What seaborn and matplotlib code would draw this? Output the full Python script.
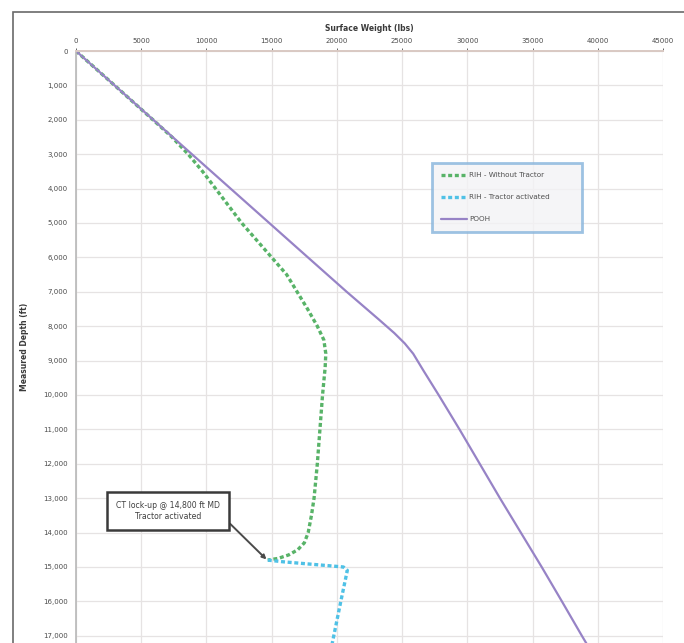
import matplotlib
matplotlib.use("Agg")
import matplotlib.pyplot as plt
from matplotlib.patches import Rectangle
from matplotlib.ticker import FuncFormatter, MultipleLocator
import numpy as np
import pandas as pd
import seaborn as sns

# Surface weight (lbs) against measured depth (ft) for each run
rih_no_tractor_depth = [0, 1000, 2000, 2500, 3000, 3500, 4000, 4500, 5000, 5500,
                        6000, 6500, 7000, 7500, 8000, 8400, 8800, 9200, 10000,
                        11000, 12000, 13000, 13500, 14000, 14300, 14500, 14650,
                        14750, 14800]
rih_no_tractor_weight = [0, 2960, 5900, 7350, 8600, 9700, 10700, 11700, 12700, 13850,
                         15000, 16150, 16950, 17750, 18500, 19000, 19150, 19100, 18900,
                         18700, 18500, 18250, 18050, 17800, 17500, 17000, 16300,
                         15500, 14700]

rih_tractor_depth = [14800, 14850, 15000, 15100, 16000, 17300]
rih_tractor_weight = [14700, 15900, 20500, 20800, 20300, 19600]

pooh_depth = [0, 2000, 4000, 6000, 7000, 7800, 8200, 8500, 8800, 9300, 10000, 11000,
              12000, 13000, 14000, 15000, 16000, 17000, 17300]
pooh_weight = [0, 5920, 11850, 17780, 20750, 23200, 24400, 25200, 25850, 26650, 27800,
               29400, 30950, 32500, 34100, 35700, 37250, 38780, 39250]

series_names = ["RIH - Without Tractor", "RIH - Tractor activated", "POOH"]
series_colors = ["#58b368", "#4fc1e6", "#9783c6"]

x_ticks = list(range(0, 45001, 5000))
depth_max = 17210

frames = []
for name, d, w in zip(series_names,
                      [rih_no_tractor_depth, rih_tractor_depth, pooh_depth],
                      [rih_no_tractor_weight, rih_tractor_weight, pooh_weight]):
    frames.append(pd.DataFrame({"depth": d, "weight": w, "series": name}))
df = pd.concat(frames, ignore_index=True)

sns.set_theme(style="white")
plt.rcParams["font.family"] = ["DejaVu Sans"]

fig = plt.figure(figsize=(6.84, 6.43), dpi=100)
ax = fig.add_axes([76 / 684, 0, (663 - 76) / 684, 1 - 51 / 643])

styles = {
    "RIH - Without Tractor": dict(linestyle=(0, (1.2, 0.8)), linewidth=2.4),
    "RIH - Tractor activated": dict(linestyle=(0, (1.2, 0.8)), linewidth=2.4),
    "POOH": dict(linestyle="-", linewidth=1.6),
}
for name, color in zip(series_names, series_colors):
    sub = df[df["series"] == name]
    sns.lineplot(data=sub, x="weight", y="depth", sort=False, estimator=None,
                 orient="y", ax=ax, color=color, label=name, **styles[name])

ax.set_xlim(0, 45000)
ax.set_ylim(depth_max, 0)
ax.set_xticks(x_ticks)
ax.yaxis.set_major_locator(MultipleLocator(1000))
ax.xaxis.tick_top()
ax.xaxis.set_label_position("top")
ax.xaxis.set_major_formatter(FuncFormatter(lambda v, p: f"{int(v)}"))
ax.yaxis.set_major_formatter(FuncFormatter(lambda v, p: f"{int(v):,}"))
ax.tick_params(axis="both", labelsize=5, colors="#4a4a4a", length=2, width=0.6)
ax.tick_params(axis="x", pad=3)
ax.tick_params(axis="y", pad=4)
ax.grid(True, color="#e6e3e3", linewidth=0.9)

ax.set_xlabel("Surface Weight (lbs)", fontsize=5.5, fontweight="bold",
              color="#3a3a3a", labelpad=5)
ax.set_ylabel("Measured Depth (ft)", fontsize=5.5, fontweight="bold",
              color="#3a3a3a", labelpad=10)

for side in ["right", "bottom"]:
    ax.spines[side].set_visible(False)
ax.spines["top"].set_color("#d9c9c3")
ax.spines["top"].set_linewidth(1.4)
ax.spines["left"].set_color("#b8b8b8")
ax.spines["left"].set_linewidth(1.2)

leg = ax.legend(loc="upper left", bbox_to_anchor=(0.606, 0.711, 0.256, 0.1),
                mode="expand", fontsize=5.2, handlelength=3.6, handletextpad=0.3,
                labelspacing=2.2, borderpad=1.3, frameon=True, fancybox=False,
                borderaxespad=0)
frame = leg.get_frame()
frame.set_edgecolor("#86b4dc")
frame.set_linewidth(2.0)
frame.set_facecolor("#f3f3f5")
for t in leg.get_texts():
    t.set_color("#505050")

ax.annotate("CT lock-up @ 14,800 ft MD\nTractor activated",
            xy=(14600, 14780), xytext=(7050, 13370), textcoords="data",
            fontsize=5.6, color="#404040", ha="center", va="center",
            bbox=dict(boxstyle="square,pad=1.2", fc="white", ec="#3a3a3a", lw=1.8),
            arrowprops=dict(arrowstyle="-|>", color="#4a4a4a", lw=1.4,
                            mutation_scale=6, shrinkA=0, shrinkB=0,
                            relpos=(1.0, 0.35)))

# Outer frame around the figure
fig.add_artist(Rectangle((13 / 684, -0.1), 1.2, 1 - 12 / 643 + 0.1,
                         transform=fig.transFigure, fill=False,
                         ec="#6a6a6a", lw=1.2, clip_on=False))

fig.savefig("out.png", dpi=100)
